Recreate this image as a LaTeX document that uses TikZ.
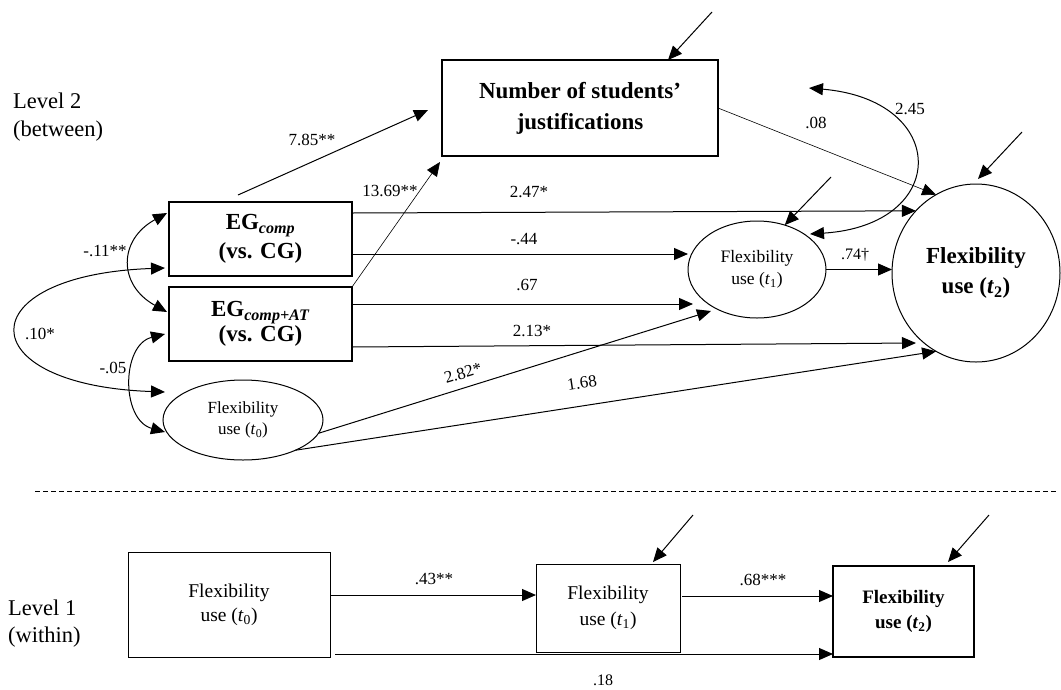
\documentclass[tikz,border=0pt]{standalone}
\usepackage{fontspec}
\setmainfont{Liberation Serif}
\usetikzlibrary{arrows.meta,shapes.geometric,calc}
\newcommand\myfs[2]{\fontsize{#1}{#2}\selectfont}
\begin{document}
\begin{tikzpicture}[x=1pt,y=-1pt,
  box/.style={draw, rectangle, line width=1.1pt, inner sep=0pt, outer sep=0pt, align=center},
  ell/.style={draw, ellipse, line width=1pt, inner sep=0pt, outer sep=0pt, align=center},
  lab/.style={font=\myfs{17}{20}, inner sep=0pt},
  arr/.style={-{Triangle[length=14pt,width=12pt]}, line width=1pt},
  thinarr/.style={-{Triangle[length=14pt,width=12pt]}, line width=0.6pt},
  dbl/.style={{Triangle[length=14pt,width=12pt]}-{Triangle[length=14pt,width=12pt]}, line width=1pt}]
\useasboundingbox (0,0) rectangle (1061,689);

% level labels
\node[anchor=west, align=left, font=\myfs{22.5}{28}, inner sep=0pt] (lv2) at (13,117) {Level 2\\(between)};
\node[anchor=west, align=left, font=\myfs{22.5}{27}, inner sep=0pt] (lv1) at (8,624) {Level 1\\(within)};

% level 2 nodes
\node[box, minimum width=276pt, minimum height=96pt, font=\bfseries\myfs{23}{31}] (num) at (580,108) {Number of students'\\justifications};
\node[box, minimum width=183pt, minimum height=74pt, font=\bfseries\myfs{23}{29}] (egc) at (260.5,239) {EG\textsubscript{\textit{comp}}\\(vs. CG)};
\node[box, minimum width=183pt, minimum height=74pt, font=\bfseries\myfs{23}{25}] (egat) at (260.5,324) {EG\textsubscript{\textit{comp+AT}}\\(vs. CG)};
\node[ell, minimum width=160pt, minimum height=80pt, font=\myfs{17}{21}] (f0) at (243,420) {Flexibility\\use (\textit{t}\textsubscript{0})};
\node[ell, minimum width=138pt, minimum height=97pt, font=\myfs{17.5}{22}] (f1) at (757,269.5) {Flexibility\\use (\textit{t}\textsubscript{1})};
\node[ell, minimum width=168pt, minimum height=178pt, font=\bfseries\myfs{23}{30}] (f2) at (976,273) {Flexibility\\use (\textit{t}\textsubscript{2})};

% level 1 nodes
\node[box, line width=1pt, minimum width=202pt, minimum height=105pt, font=\myfs{19.5}{24}] (b0) at (229,604.5) {Flexibility\\use (\textit{t}\textsubscript{0})};
\node[box, line width=1pt, minimum width=144pt, minimum height=88pt, font=\myfs{19.5}{26}] (b1) at (608,608) {Flexibility\\use (\textit{t}\textsubscript{1})};
\node[box, line width=1.2pt, minimum width=141pt, minimum height=91pt, font=\bfseries\myfs{19}{25}] (b2) at (903.5,611.5) {Flexibility\\use (\textit{t}\textsubscript{2})};

% dashed separator
\coordinate (da) at (35,491);
\coordinate (db) at (1056,491);
\draw[line width=0.8pt, dash pattern=on 5pt off 3pt] (da) -- (db);

% residual arrows
\coordinate (r0) at (712,12);
\coordinate (r1) at (831,177);
\coordinate (r2) at (1022,132);
\coordinate (r3) at (693,515);
\coordinate (r4) at (989,515);
\draw[arr] (r0) -- ([xshift=88pt]num.north);
\draw[arr] (r1) -- (f1.58);
\draw[arr] (r2) -- ([shift={(2pt,5pt)}]f2.north);
\draw[arr] (r3) -- ([shift={(45pt,2pt)}]b1.north);
\draw[arr] (r4) -- ([shift={(44.5pt,4pt)}]b2.north);

% level 2 paths
\draw[arr] ([shift={(-22.5pt,7pt)}]egc.north) -- ([shift={(-14pt,-2pt)}]num.west);
\draw[thinarr] (egat.north east) -- ([shift={(-2pt,-6pt)}]num.south west);
\draw[thinarr] (num.east) -- (f2.117);
\draw[arr] ([yshift=26pt]egc.east) -- (f2.134);
\coordinate (s44) at ([yshift=-15pt]egc.east);
\draw[arr] (s44) -- (s44 -| f1.west);
\coordinate (s67) at ([yshift=20pt]egat.east);
\draw[arr] (s67) -- ($(s67 -| f1.west)+(5,0)$);
\coordinate (s213) at ([yshift=-23pt]egat.east);
\draw[arr] (s213) -- ($(s213 -| f2.west)+(24,-4)$);
\draw[arr] (f0.-10) -- ($(f1.center)+(-46,41.5)$);
\draw[arr] (f0.-30) -- (f2.243);
\draw[arr] (f1.east) -- (f1.east -| f2.west);

% covariances
\draw[dbl] ([shift={(-2pt,26pt)}]egc.west) .. controls (118,240) and (118,285) .. ([shift={(-2pt,12pt)}]egat.west);
\draw[dbl] ([shift={(-4pt,-29pt)}]egc.west) .. controls (-32,275) and (-32,385) .. ($(f0.center)+(-78,-28)$);
\draw[dbl] ([shift={(-4pt,-10pt)}]egat.west) .. controls (121,345) and (121,420) .. ($(f0.center)+(-78,12)$);
\coordinate (c245) at (809,88);
\draw[dbl] (c245) .. controls (950,100) and (950,225) .. ($(f1.center)+(53,-35.5)$);

% level 1 paths
\coordinate (s43) at ([yshift=9.5pt]b0.east);
\draw[arr] (s43) -- (s43 -| b1.west);
\coordinate (s68) at ([shift={(2pt,12pt)}]b1.east);
\draw[arr] (s68) -- (s68 -| b2.west);
\coordinate (s18) at ([shift={(5pt,3pt)}]b0.south east);
\draw[arr] (s18) -- (s18 -| b2.west);

% path labels
\node[lab] (la1) at (105,251) {-.11**};
\node[lab] (la2) at (40,334) {.10*};
\node[lab] (la3) at (113,368) {-.05};
\node[lab] (la4) at (312,140) {7.85**};
\node[lab] (la5) at (390,191) {13.69**};
\node[lab] (la6) at (529,192) {2.47*};
\node[lab] (la7) at (524,239) {-.44};
\node[lab] (la8) at (527,285) {.67};
\node[lab] (la9) at (532,331) {2.13*};
\node[lab, rotate=17] (la10) at (463,373) {2.82*};
\node[lab, rotate=8.5] (la11) at (582,383) {1.68};
\node[lab] (la12) at (816,123) {.08};
\node[lab] (la13) at (910,109) {2.45};
\node[lab, font=\myfs{16}{19}] (la14) at (855,255) {.74†};
\node[lab] (la15) at (434,579) {.43**};
\node[lab] (la16) at (763,580) {.68***};
\node[lab, font=\myfs{16}{19}] (la17) at (603,680) {.18};
\end{tikzpicture}
\end{document}
